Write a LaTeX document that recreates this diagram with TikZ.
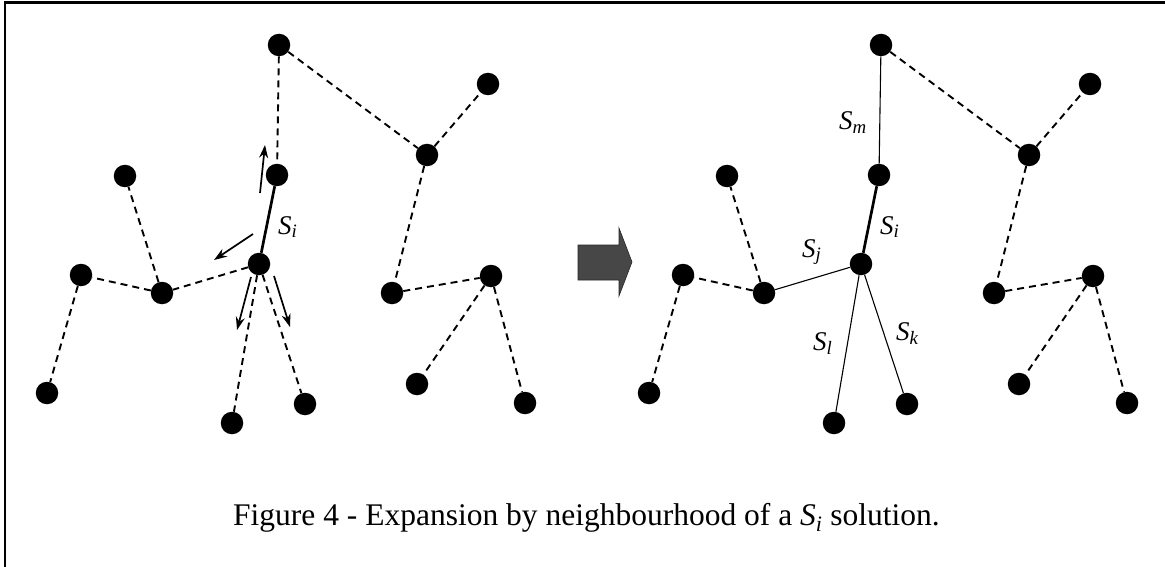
\documentclass[tikz,border=0pt]{standalone}
\usepackage{fontspec}
\setmainfont{Liberation Serif}
\usetikzlibrary{arrows.meta}
\tikzset{
  dot/.style={circle,fill=black,inner sep=0pt,minimum size=22.5pt},
  dashedge/.style={line width=1.9pt,dash pattern=on 7pt off 5pt},
  thinedge/.style={line width=1.1pt},
  thickedge/.style={line width=2.7pt},
  movearrow/.style={line width=1.7pt,-{Stealth[length=13pt,width=9pt]}},
  lbl/.style={anchor=base west,inner sep=0pt,font=\fontsize{27}{30}\selectfont\itshape},
  frame/.style={line width=2.4pt},
  bigarrow/.style={fill=black!72,draw=black!85,line width=0.6pt}
}
\newcommand{\graphnodes}[2]{%
  \begin{scope}[xshift=#1]
  \node[dot] (#2T)  at (279,45) {};
  \node[dot] (#2U)  at (277,175) {};
  \node[dot] (#2C)  at (259,264) {};
  \node[dot] (#2L1) at (125,176) {};
  \node[dot] (#2M)  at (162,293) {};
  \node[dot] (#2F)  at (81,275) {};
  \node[dot] (#2BL) at (47,393) {};
  \node[dot] (#2B1) at (232,423) {};
  \node[dot] (#2B2) at (305,404) {};
  \node[dot] (#2R1) at (427,155) {};
  \node[dot] (#2R2) at (488,84) {};
  \node[dot] (#2R3) at (392,293) {};
  \node[dot] (#2R4) at (491,276) {};
  \node[dot] (#2R5) at (417,384) {};
  \node[dot] (#2R6) at (525,403) {};
  \end{scope}%
}
\begin{document}
\begin{tikzpicture}[x=1pt,y=-1pt]
\useasboundingbox (0,0) rectangle (1165,567);
% frame (top and left sides visible)
\draw[frame] (5,567) -- (5,2.5) -- (1165,2.5);

\graphnodes{0pt}{a}
\graphnodes{602pt}{b}

% left graph edges
\draw[dashedge] (aT) -- (aU);
\draw[dashedge] (aT) -- (aR1);
\draw[dashedge] (aR1) -- (aR2);
\draw[dashedge] (aR1) -- (aR3);
\draw[dashedge] (aR3) -- (aR4);
\draw[dashedge] (aR4) -- (aR5);
\draw[dashedge] (aR4) -- (aR6);
\draw[thickedge] (aU) -- (aC);
\draw[dashedge] (aC) -- (aM);
\draw[dashedge] (aM) -- (aL1);
\draw[dashedge] (aM) -- (aF);
\draw[dashedge] (aF) -- (aBL);
\draw[dashedge] (aC) -- (aB1);
\draw[dashedge] (aC) -- (aB2);

% move arrows
\coordinate (u0) at (260,193); \coordinate (u1) at (265,145);
\coordinate (l0) at (253,234); \coordinate (l1) at (214,260);
\coordinate (d0) at (251,277); \coordinate (d1) at (237,330);
\coordinate (e0) at (274,276); \coordinate (e1) at (290,327);
\draw[movearrow] (u0) -- (u1);
\draw[movearrow] (l0) -- (l1);
\draw[movearrow] (d0) -- (d1);
\draw[movearrow] (e0) -- (e1);
\node[lbl] (lSi) at (278,234) {S\textsubscript{i}};

% transition arrow
\draw[bigarrow] (578,245) -- (619,245) -- (619,228) -- (632,262) -- (619,296) -- (619,280) -- (578,280) -- cycle;

% right graph edges
\draw[thinedge] (bT) -- (bU);
\draw[dashedge] (bT) -- (bR1);
\draw[dashedge] (bR1) -- (bR2);
\draw[dashedge] (bR1) -- (bR3);
\draw[dashedge] (bR3) -- (bR4);
\draw[dashedge] (bR4) -- (bR5);
\draw[dashedge] (bR4) -- (bR6);
\draw[thickedge] (bU) -- (bC);
\draw[thinedge] (bC) -- (bM);
\draw[dashedge] (bM) -- (bL1);
\draw[dashedge] (bM) -- (bF);
\draw[dashedge] (bF) -- (bBL);
\draw[thinedge] (bC) -- (bB1);
\draw[thinedge] (bC) -- (bB2);

\node[lbl] (rSm) at (839,130) {S\textsubscript{m}};
\node[lbl] (rSi) at (880,234) {S\textsubscript{i}};
\node[lbl] (rSj) at (802,257) {S\textsubscript{j}};
\node[lbl] (rSl) at (813,350) {S\textsubscript{l}};
\node[lbl] (rSk) at (896,340) {S\textsubscript{k}};

% caption
\node[anchor=base,inner sep=0pt,font=\fontsize{31.5}{36}\selectfont] (cap) at (586.5,525)
  {Figure 4 - Expansion by neighbourhood of a \textit{S}\textsubscript{\textit{i}} solution.};
\end{tikzpicture}
\end{document}
